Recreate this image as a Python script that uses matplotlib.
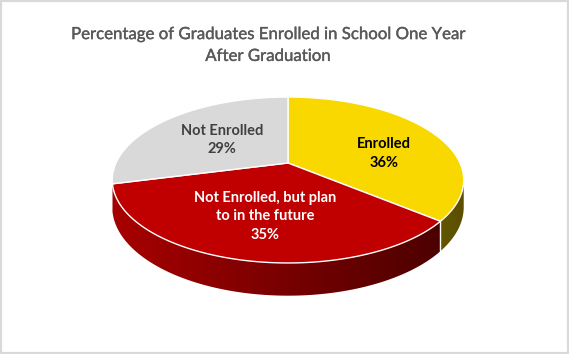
import numpy as np
import matplotlib.pyplot as plt
import matplotlib.patheffects as pe
from matplotlib.patches import Polygon, Rectangle
from matplotlib.colors import to_rgb

# data
labels = ["Enrolled", "Not Enrolled, but plan\nto in the future", "Not Enrolled"]
values = [36, 35, 29]
colors = ["#F9D800", "#C00000", "#D9D9D9"]
label_colors = ["#000000", "#FFFFFF", "#404040"]
title = "Percentage of Graduates Enrolled in School One Year\nAfter Graduation"

# pie geometry (pixels), simple perspective tilt
cx, cy = 288, 163
f = 172.0      # horizontal scale
fs = 79.5      # vertical scale
c = 0.2048     # perspective strength
depth = 26.0

def project(theta, drop=0.0):
    # theta: clockwise from 12 o'clock, radians
    u = np.sin(theta)
    v = -np.cos(theta)
    d = 1 - c * v
    return cx + f * u / d, cy + fs * v / d + drop / d

fig = plt.figure(figsize=(5.69, 3.54), dpi=100)
ax = fig.add_axes([0, 0, 1, 1])
ax.set_xlim(0, 569)
ax.set_ylim(354, 0)
ax.axis("off")

fracs = np.array(values) / sum(values)
edges = np.concatenate([[0], np.cumsum(fracs)]) * 2 * np.pi

# side walls (only the part in front of the silhouette), horizontal shading
xs_grid = np.linspace(0, 569, 600)
u_grid = np.clip((xs_grid - cx) / f, -1, 1)
shade = 0.62 - 0.25 * u_grid
for i in range(len(values)):
    th = np.linspace(edges[i], edges[i + 1], 300)
    th = th[-np.cos(th) > 0.2]
    if len(th) < 2:
        continue
    xt, yt = project(th)
    xb, yb = project(th, depth)
    pts = list(zip(xt, yt)) + list(zip(xb[::-1], yb[::-1]))
    poly = Polygon(pts, closed=True, facecolor="none", edgecolor="none")
    ax.add_patch(poly)
    base = np.array(to_rgb(colors[i]))
    img = np.clip(shade[None, :, None] * base[None, None, :], 0, 1)
    im = ax.imshow(img, extent=(0, 569, 354, 0), aspect="auto",
                   interpolation="bilinear", zorder=1)
    im.set_clip_path(poly)

# white seams on the side where slices meet at the front
for e in edges[1:-1]:
    if -np.cos(e) > 0.3:
        x1, y1 = project(e)
        x2, y2 = project(e, depth)
        ax.plot([x1, x2], [y1, y2], color="white", lw=1, zorder=2)

# top faces
for i in range(len(values)):
    th = np.linspace(edges[i], edges[i + 1], 200)
    xs, ys = project(th)
    pts = [(cx, cy)] + list(zip(xs, ys))
    ax.add_patch(Polygon(pts, closed=True, facecolor=colors[i],
                         edgecolor="white", lw=1, zorder=3))

# labels
label_pos = [(384, 153.5), (265, 216.5), (222, 140)]
for i in range(len(values)):
    ax.text(label_pos[i][0], label_pos[i][1], f"{labels[i]}\n{values[i]}%",
            ha="center", va="center", fontsize=10.5, fontweight="bold",
            color=label_colors[i], family="Lato", linespacing=1.45, zorder=4)

ax.text(268, 45, title, ha="center", va="center", fontsize=12.1,
        color="#595959", family="Lato", linespacing=1.45,
        path_effects=[pe.withStroke(linewidth=0.25, foreground="#595959")])

fig.patches.append(Rectangle((0, 0), 1, 1, transform=fig.transFigure,
                             fill=False, edgecolor="#D9D9D9", lw=3))

fig.savefig("out.png", dpi=100)
